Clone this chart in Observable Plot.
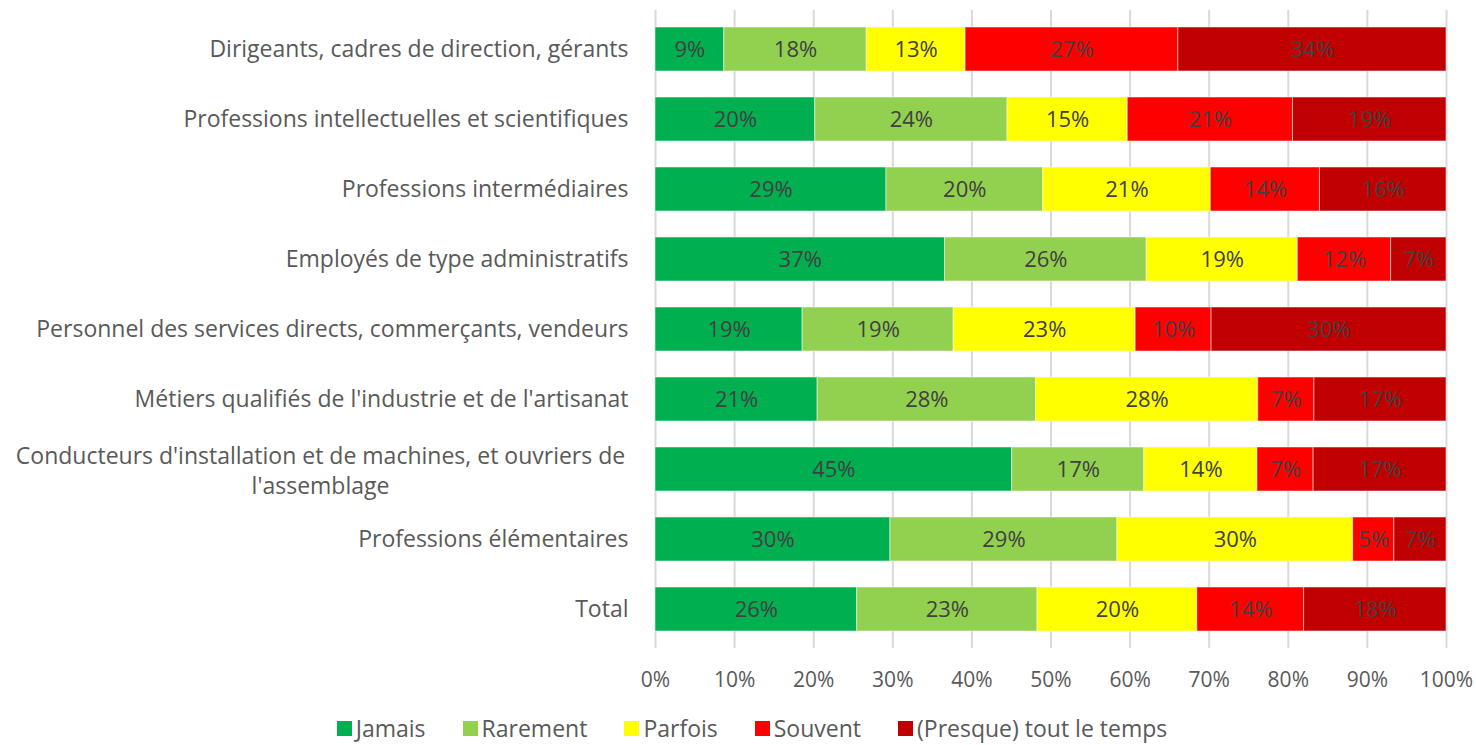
<!DOCTYPE html>
<html>
<head>
<meta charset="utf-8">
<script src="https://cdn.jsdelivr.net/npm/d3@7"></script>
<script src="https://cdn.jsdelivr.net/npm/@observablehq/plot@0.6"></script>
<style>
  html, body { margin: 0; padding: 0; background: #ffffff; }
  body { width: 1476px; height: 745px; overflow: hidden; font-family: "Open Sans", sans-serif; }
  #legend { display: flex; justify-content: center; align-items: center; gap: 37px; font-size: 23px; line-height: 22px; color: #595959; margin-top: 17px; padding-left: 28px; }
  #legend .item { display: flex; align-items: center; gap: 4px; }
  #legend .sw { width: 15px; height: 15px; display: inline-block; }
</style>
</head>
<body>
<div id="chart"></div>
<div id="legend"></div>
<script>
const categories = [
  "Dirigeants, cadres de direction, gérants",
  "Professions intellectuelles et scientifiques",
  "Professions intermédiaires",
  "Employés de type administratifs",
  "Personnel des services directs, commerçants, vendeurs",
  "Métiers qualifiés de l'industrie et de l'artisanat",
  "Conducteurs d'installation et de machines, et ouvriers de l'assemblage",
  "Professions élémentaires",
  "Total"
];
const seriesNames = ["Jamais", "Rarement", "Parfois", "Souvent", "(Presque) tout le temps"];
const seriesColors = ["#00B050", "#92D050", "#FFFF00", "#FF0000", "#C00000"];
const jamais   = [8.7, 20.2, 29.2, 36.6, 18.6, 20.5, 45.1, 29.7, 25.5];
const rarement = [18.0, 24.3, 19.8, 25.5, 19.1, 27.6, 16.7, 28.7, 22.8];
const parfois  = [12.5, 15.2, 21.2, 19.1, 23.0, 28.1, 14.3, 29.8, 20.2];
const souvent  = [26.9, 20.9, 13.8, 11.8, 9.6, 7.1, 7.1, 5.2, 13.5];
const presque  = [33.9, 19.4, 16.0, 7.0, 29.7, 16.7, 16.8, 6.6, 18.0];
const xTicks = [0, 10, 20, 30, 40, 50, 60, 70, 80, 90, 100];

const seriesValues = [jamais, rarement, parfois, souvent, presque];
const data = categories.flatMap((c, i) =>
  seriesNames.map((s, j) => ({cat: c, series: s, value: seriesValues[j][i]}))
);

const longCat = categories[6];
const shortCats = categories.filter(c => c !== longCat);

const chart = Plot.plot({
  width: 1476,
  height: 700,
  marginLeft: 655,
  marginRight: 30,
  marginTop: 10,
  marginBottom: 52,
  style: {fontFamily: "'Open Sans', sans-serif", fontSize: "23px", color: "#595959", background: "#ffffff"},
  x: {domain: [0, 100]},
  y: {domain: categories, paddingInner: 0.37, paddingOuter: 0.19},
  color: {domain: seriesNames, range: seriesColors},
  marks: [
    Plot.gridX(xTicks, {stroke: "#d9d9d9", strokeOpacity: 1, strokeWidth: 2}),
    Plot.barX(data, Plot.stackX({x: "value", y: "cat", fill: "series", stroke: "#ffffff", strokeOpacity: 0.5, strokeWidth: 1})),
    Plot.text(data, Plot.stackX({x: "value", y: "cat", z: "series", text: d => Math.round(d.value) + "%", fill: "#404040", fontSize: 22})),
    Plot.axisX(xTicks, {tickSize: 0, tickPadding: 24, tickFormat: d => d + "%", fontSize: 21, fill: "#595959", label: null}),
    Plot.axisY(shortCats, {tickSize: 0, tickPadding: 27, fontSize: 23, fill: "#595959", label: null}),
    Plot.axisY([longCat], {tickSize: 0, tickPadding: 335, textAnchor: "middle", lineHeight: 1.3, lineWidth: 100,
      tickFormat: d => "Conducteurs d'installation et de machines, et ouvriers de\nl'assemblage",
      fontSize: 23, fill: "#595959", label: null})
  ]
});
document.getElementById("chart").appendChild(chart);

const legend = document.getElementById("legend");
seriesNames.forEach((s, i) => {
  const item = document.createElement("div");
  item.className = "item";
  const sw = document.createElement("span");
  sw.className = "sw";
  sw.style.background = seriesColors[i];
  const t = document.createElement("span");
  t.textContent = s;
  item.appendChild(sw);
  item.appendChild(t);
  legend.appendChild(item);
});
</script>
</body>
</html>
